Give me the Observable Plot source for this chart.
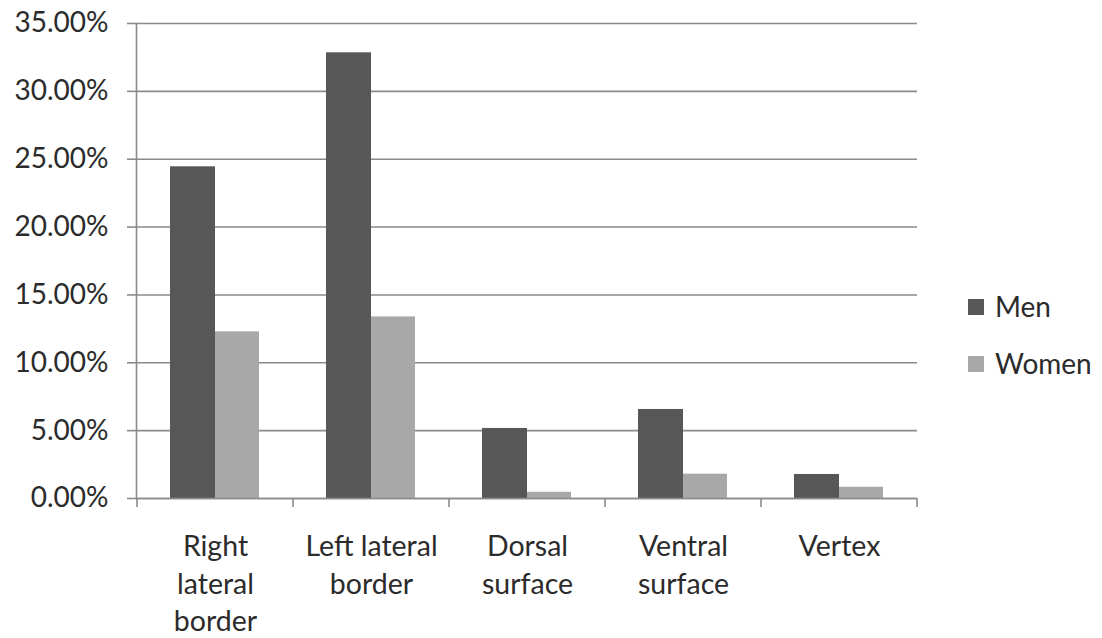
<!DOCTYPE html>
<html>
<head>
<meta charset="utf-8">
<script src="https://cdn.jsdelivr.net/npm/d3@7"></script>
<script src="https://cdn.jsdelivr.net/npm/@observablehq/plot@0.6"></script>
<style>
  html, body { margin: 0; padding: 0; background: #fff; }
  #wrap { position: relative; width: 1102px; height: 638px; font-family: Lato, "Open Sans", sans-serif; color: #2b2b2b; }
  #legend { position: absolute; left: 968px; top: 278px; font-size: 28px; line-height: 57px; }
  #legend .row { display: flex; align-items: center; white-space: nowrap; }
  #legend .sw { width: 16px; height: 16px; margin-right: 11px; }
</style>
</head>
<body>
<div id="wrap"><div id="legend"></div></div>
<script>
const categories = ["Right\nlateral\nborder", "Left lateral\nborder", "Dorsal\nsurface", "Ventral\nsurface", "Vertex"];
const men = [0.2444, 0.3284, 0.0516, 0.0656, 0.0177];
const women = [0.1228, 0.1338, 0.0046, 0.0179, 0.0083];
const yTicks = [0, 0.05, 0.10, 0.15, 0.20, 0.25, 0.30, 0.35];
const seriesNames = ["Men", "Women"];
const seriesColors = ["#575757", "#a8a8a8"];

const data = categories.map((c, i) => ({category: c, men: men[i], women: women[i]}));
const gridColor = "#8a8a8a";

const plot = Plot.plot({
  width: 1102,
  height: 638,
  marginLeft: 136,
  marginRight: 185,
  marginTop: 23,
  marginBottom: 140,
  style: {fontFamily: "Lato, 'Open Sans', sans-serif", color: "#2b2b2b", background: "transparent"},
  x: {domain: categories, padding: 0},
  y: {domain: [0, 0.35]},
  marks: [
    Plot.gridY(yTicks, {stroke: gridColor, strokeOpacity: 1, strokeWidth: 1.6}),
    Plot.barY(data, {x: "category", y: "men", fill: seriesColors[0], insetLeft: 33, insetRight: 78}),
    Plot.barY(data, {x: "category", y: "women", fill: seriesColors[1], insetLeft: 78, insetRight: 34}),
    Plot.axisY(yTicks, {tickSize: 9, tickPadding: 19, tickFormat: d3.format(".2%"), fontSize: 28, stroke: gridColor, strokeWidth: 1.6, label: null}),
    Plot.axisX({tickSize: 0, tickPadding: 31, fontSize: 28.5, lineHeight: 1.32, lineAnchor: "top", label: null}),
    Plot.frame({anchor: "left", stroke: gridColor, strokeWidth: 1.6}),
    Plot.ruleY([0], {stroke: gridColor, strokeWidth: 1.6})
  ]
});

// category boundary tick marks below the x axis, positioned from the plot's x scale
const xs = plot.scale("x");
const ys = plot.scale("y");
const y0 = ys.apply(0);
const bounds = categories.map(c => xs.apply(c)).concat([xs.apply(categories[categories.length - 1]) + xs.bandwidth]);
const svg = d3.select(plot);
svg.append("g").selectAll("line").data(bounds).join("line")
  .attr("x1", d => d).attr("x2", d => d)
  .attr("y1", y0).attr("y2", y0 + 9)
  .attr("stroke", gridColor).attr("stroke-width", 1.6);

document.getElementById("wrap").prepend(plot);

const legend = d3.select("#legend");
seriesNames.forEach((name, i) => {
  const row = legend.append("div").attr("class", "row");
  row.append("div").attr("class", "sw").style("background", seriesColors[i]);
  row.append("span").text(name);
});
</script>
</body>
</html>
